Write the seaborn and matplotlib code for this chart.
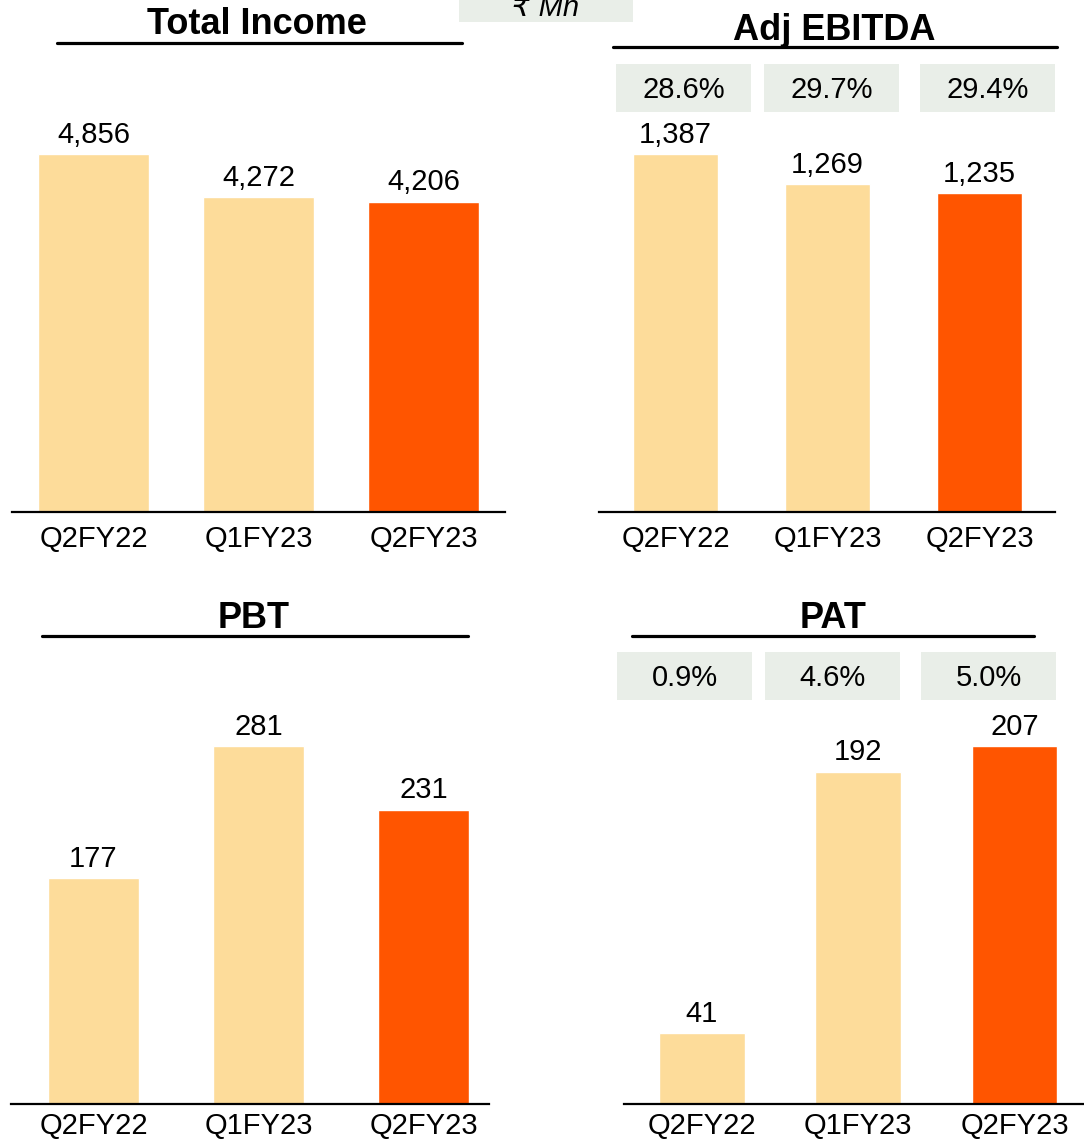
import matplotlib
matplotlib.use("Agg")
import matplotlib.pyplot as plt
from matplotlib.lines import Line2D
from matplotlib.patches import Rectangle
import seaborn as sns

sns.set_style("white")
plt.rcParams["font.family"] = ["Liberation Sans", "DejaVu Sans"]

# Quarterly financials (₹ Mn)
quarters = ["Q2FY22", "Q1FY23", "Q2FY23"]
total_income = [4856, 4272, 4206]
adj_ebitda = [1387, 1269, 1235]
pbt = [177, 281, 231]
pat = [41, 192, 207]
ebitda_margin = ["28.6%", "29.7%", "29.4%"]
pat_margin = ["0.9%", "4.6%", "5.0%"]

LIGHT = "#FDDC9A"
ORANGE = "#FF5500"
BOX = "#E9EEE8"
palette = [LIGHT, LIGHT, ORANGE]

W, H = 1084, 1142
fig = plt.figure(figsize=(W / 100, H / 100), dpi=100)


def fx(px):
    return px / W


def fy(py):
    return 1 - py / H


def panel(values, left, right, base, xlim, width, fmt, pad):
    height = 400
    ax = fig.add_axes([fx(left), fy(base), (right - left) / W, height / H])
    sns.barplot(x=quarters, y=values, hue=quarters, palette=palette,
                width=width, legend=False, saturation=1, ax=ax)
    ax.set_xlim(*xlim)
    ax.set_ylim(0, max(values) * height / 358)
    for s in ["top", "left", "right"]:
        ax.spines[s].set_visible(False)
    ax.spines["bottom"].set_linewidth(1.6)
    ax.spines["bottom"].set_color("black")
    ax.set_yticks([])
    ax.set_xlabel("")
    ax.set_ylabel("")
    ax.tick_params(axis="x", length=0, pad=pad, labelsize=21, labelcolor="black")
    for i, v in enumerate(values):
        ax.annotate(fmt.format(v), (i, v), xytext=(0, 14), textcoords="offset points",
                    ha="center", va="center", fontsize=21, color="black")
    return ax


def title(text, cx, cy, x0, x1, ly):
    fig.text(fx(cx), fy(cy), text, ha="center", va="center",
             fontsize=26, fontweight="bold", color="black")
    fig.add_artist(Line2D([fx(x0), fx(x1)], [fy(ly), fy(ly)],
                          color="black", linewidth=2.3))


def margin_boxes(labels, xs, y0, y1):
    for lab, (a, b) in zip(labels, xs):
        fig.add_artist(Rectangle((fx(a), fy(y1)), (b - a) / W, (y1 - y0) / H,
                                 facecolor=BOX, edgecolor="none"))
        fig.text(fx((a + b) / 2), fy((y0 + y1) / 2 + 2), lab, ha="center", va="center",
                 fontsize=21, color="black")


panel(total_income, 12, 505, 512, (-0.494, 2.494), 0.667, "{:,}", 9)
panel(adj_ebitda, 599, 1055, 512, (-0.503, 2.497), 0.56, "{:,}", 9)
panel(pbt, 11, 489, 1104, (-0.5, 2.397), 0.55, "{:,}", 6)
panel(pat, 624, 1084, 1104, (-0.499, 2.445), 0.55, "{:,}", 6)

title("Total Income", 257, 25, 57, 462, 43)
title("Adj EBITDA", 834, 30, 613, 1057, 47)
title("PBT", 254, 618, 42, 468, 636)
title("PAT", 833, 618, 632, 1034, 636)

margin_boxes(ebitda_margin, [(616, 751), (764, 899), (920, 1055)], 64, 112)
margin_boxes(pat_margin, [(617, 752), (765, 900), (921, 1056)], 652, 700)

# unit tag
fig.add_artist(Rectangle((fx(459), fy(22)), (633 - 459) / W, 22 / H,
                         facecolor=BOX, edgecolor="none"))
fig.text(fx(546), fy(16), "₹ Mn", ha="center", va="baseline",
         fontsize=21, fontstyle="italic", color="black")

fig.savefig("out.png", dpi=100)
